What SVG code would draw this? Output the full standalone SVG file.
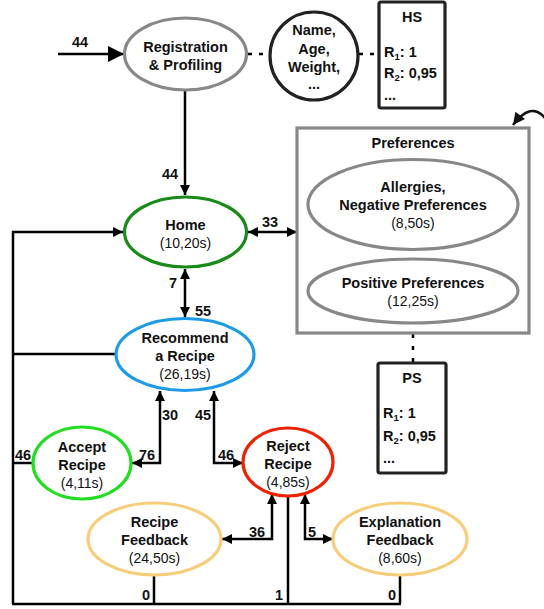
<svg xmlns="http://www.w3.org/2000/svg" width="544" height="609" viewBox="0 0 544 609">
<defs>
<marker id="arr" viewBox="0 0 10 10" refX="10" refY="5" markerWidth="11" markerHeight="10" orient="auto-start-reverse" markerUnits="userSpaceOnUse"><path d="M0,0 L10,5 L0,10 z" fill="#000"/></marker>
<marker id="big" viewBox="0 0 10 10" refX="10" refY="5" markerWidth="22" markerHeight="16" orient="auto" markerUnits="userSpaceOnUse"><path d="M0,0 L10,5 L0,10 z" fill="#000"/></marker>
<marker id="cur" viewBox="0 0 10 10" refX="10" refY="5" markerWidth="14" markerHeight="12" orient="auto" markerUnits="userSpaceOnUse"><path d="M0,0 L10,5 L0,10 z" fill="#111"/></marker>
<style>
text{font-family:"Liberation Sans",Arial,sans-serif;font-size:14px;fill:#111}
.b{font-weight:bold;font-size:14.5px}
.c{text-anchor:middle}
.ln{fill:none;stroke:#000;stroke-width:2.5}
.dot{fill:none;stroke:#000;stroke-width:2.5}
.nd{fill:#fff;stroke-width:3.2}
</style>
</defs>
<g id="connectors">
<path class="ln" d="M58,54 L124,54" stroke-width="4.5" marker-end="url(#big)"/>
<path class="dot" d="M248,54 L270,54" stroke-dasharray="4 7"/>
<path class="dot" d="M359,54 L379,54" stroke-dasharray="4 7"/>
<path class="dot" d="M413,334 L413,363" stroke-dasharray="4 8"/>
<path class="ln" d="M185,90 L185,195" marker-end="url(#arr)"/>
<path class="ln" d="M248,232 L297,232" marker-start="url(#arr)" marker-end="url(#arr)"/>
<path class="ln" d="M13,604 L13,232 L123,232" marker-end="url(#arr)"/>
<path class="ln" d="M12,604 L401,604"/>
<path class="ln" d="M185,269 L185,317" marker-start="url(#arr)" marker-end="url(#arr)"/>
<path class="ln" d="M116,354 L13,354"/>
<path class="ln" d="M160,391 L160,463 L132,463" marker-start="url(#arr)" marker-end="url(#arr)"/>
<path class="ln" d="M33,463 L13,463"/>
<path class="ln" d="M214,391 L214,463 L243,463" marker-start="url(#arr)" marker-end="url(#arr)"/>
<path class="ln" d="M272,494 L272,539 L222,539" marker-start="url(#arr)" marker-end="url(#arr)"/>
<path class="ln" d="M288,497 L288,604"/>
<path class="ln" d="M305,494 L305,539 L333,539" marker-start="url(#arr)" marker-end="url(#arr)"/>
<path class="ln" d="M154,575 L154,604"/>
<path class="ln" d="M400,575 L400,604"/>
<path d="M545,118 Q531,101 513,125" fill="none" stroke="#111" stroke-width="2.5" marker-end="url(#cur)"/>
<text class="b" x="72" y="47">44</text>
<text class="b" x="162" y="179">44</text>
<text class="b" x="262" y="227">33</text>
<text class="b" x="169" y="288">7</text>
<text class="b" x="195" y="316">55</text>
<text class="b" x="162" y="420">30</text>
<text class="b" x="195" y="420">45</text>
<text class="b" x="139" y="460">76</text>
<text class="b" x="218" y="460">46</text>
<text class="b" x="15" y="460">46</text>
<text class="b" x="249" y="537">36</text>
<text class="b" x="308" y="537">5</text>
<text class="b" x="142" y="600">0</text>
<text class="b" x="275" y="600">1</text>
<text class="b" x="388" y="600">0</text>
</g>
<g id="registration">
<ellipse class="nd" cx="185.5" cy="54" rx="61" ry="36" stroke="#888"/>
<text class="b c" x="185.5" y="52">Registration</text>
<text class="b c" x="185.5" y="70">&amp; Profiling</text>
</g>
<g id="profile">
<circle class="nd" cx="314" cy="56" r="44" stroke="#222"/>
<text class="b c" x="314" y="35">Name,</text>
<text class="b c" x="314" y="54">Age,</text>
<text class="b c" x="314" y="72">Weight,</text>
<text class="b c" x="314" y="89">...</text>
</g>
<g id="hs">
<rect class="nd" x="379" y="2" width="66" height="106" rx="2" stroke="#222"/>
<text class="b c" x="412" y="22">HS</text>
<text class="b" x="384" y="57">R<tspan font-size="9.5" dy="3">1</tspan><tspan dy="-3">: 1</tspan></text>
<text class="b" x="384" y="78">R<tspan font-size="9.5" dy="3">2</tspan><tspan dy="-3">: 0,95</tspan></text>
<text class="b" x="384" y="100">...</text>
</g>
<g id="preferences">
<rect class="nd" x="297" y="128" width="232" height="205" stroke="#888"/>
<text class="b c" x="413" y="148">Preferences</text>
<ellipse class="nd" cx="413" cy="204.5" rx="105" ry="45" stroke="#888"/>
<text class="b c" x="413" y="192">Allergies,</text>
<text class="b c" x="413" y="210">Negative Preferences</text>
<text class="c" x="413" y="228">(8,50s)</text>
<ellipse class="nd" cx="413" cy="291" rx="105" ry="32" stroke="#888"/>
<text class="b c" x="413" y="288">Positive Preferences</text>
<text class="c" x="413" y="306">(12,25s)</text>
</g>
<g id="ps">
<rect class="nd" x="378" y="363" width="68" height="110" rx="2" stroke="#222"/>
<text class="b c" x="412" y="383">PS</text>
<text class="b" x="383" y="418">R<tspan font-size="9.5" dy="3">1</tspan><tspan dy="-3">: 1</tspan></text>
<text class="b" x="383" y="441">R<tspan font-size="9.5" dy="3">2</tspan><tspan dy="-3">: 0,95</tspan></text>
<text class="b" x="383" y="463">...</text>
</g>
<g id="home">
<ellipse class="nd" cx="185.5" cy="232" rx="61" ry="35" stroke="#1a8a1a"/>
<text class="b c" x="185.5" y="230">Home</text>
<text class="c" x="185.5" y="248">(10,20s)</text>
</g>
<g id="recommend">
<ellipse class="nd" cx="185" cy="354.5" rx="69" ry="36" stroke="#1e9be8"/>
<text class="b c" x="185" y="343">Recommend</text>
<text class="b c" x="185" y="361">a Recipe</text>
<text class="c" x="185" y="379">(26,19s)</text>
</g>
<g id="accept">
<ellipse class="nd" cx="82" cy="463" rx="49" ry="36" stroke="#22dd22"/>
<text class="b c" x="82" y="452">Accept</text>
<text class="b c" x="82" y="470">Recipe</text>
<text class="c" x="82" y="488">(4,11s)</text>
</g>
<g id="reject">
<ellipse class="nd" cx="288" cy="462" rx="45" ry="34" stroke="#ee2200"/>
<text class="b c" x="288" y="451">Reject</text>
<text class="b c" x="288" y="469">Recipe</text>
<text class="c" x="288" y="487">(4,85s)</text>
</g>
<g id="recipe-feedback">
<ellipse class="nd" cx="154.5" cy="539" rx="66.5" ry="36" stroke="#f8cd7a"/>
<text class="b c" x="154.5" y="527">Recipe</text>
<text class="b c" x="154.5" y="545">Feedback</text>
<text class="c" x="154.5" y="563">(24,50s)</text>
</g>
<g id="explanation-feedback">
<ellipse class="nd" cx="400" cy="539" rx="67" ry="36" stroke="#f8cd7a"/>
<text class="b c" x="400" y="527">Explanation</text>
<text class="b c" x="400" y="545">Feedback</text>
<text class="c" x="400" y="563">(8,60s)</text>
</g>
</svg>
